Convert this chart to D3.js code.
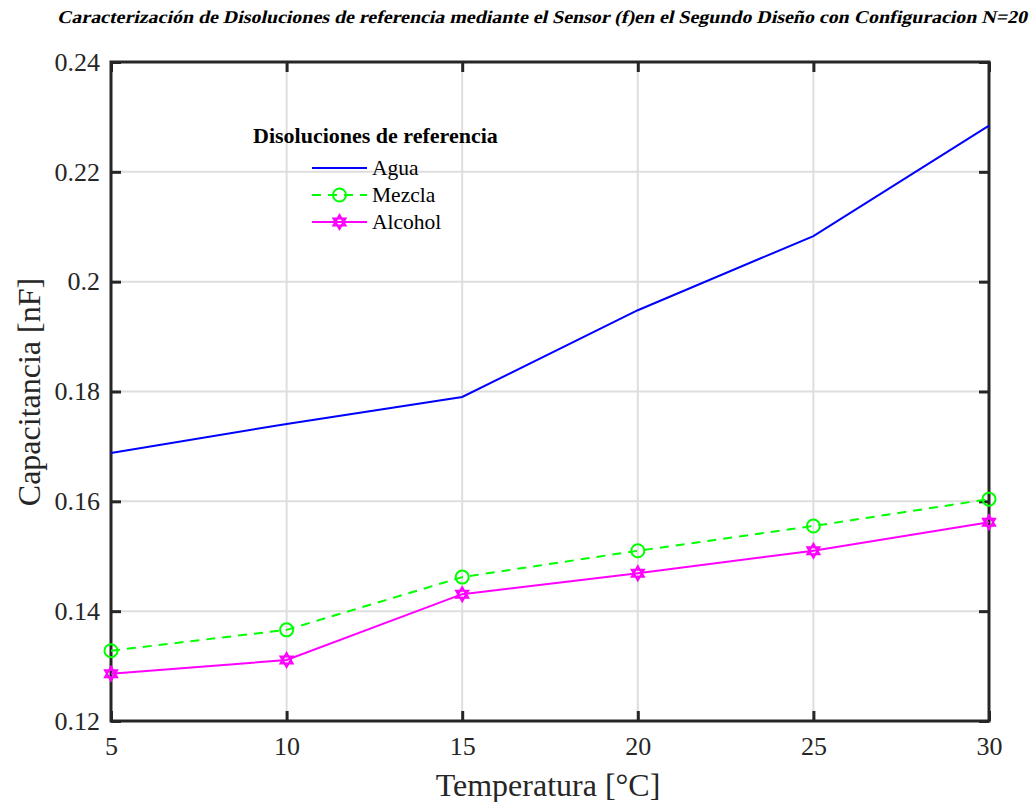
<!DOCTYPE html>
<html>
<head>
<style>
    body { margin: 0; background: #fff; }
</style>
</head>
<body>
<svg id="chart" width="1034" height="802" font-family="Liberation Serif, Times New Roman, serif"></svg>
<script src="https://d3js.org/d3.v7.min.js"></script>
<script>
    const temps = [5, 10, 15, 20, 25, 30];
    const agua = [0.1688, 0.1741, 0.1790, 0.1948, 0.2083, 0.2284];
    const mezcla = [0.1328, 0.1366, 0.1462, 0.1510, 0.1555, 0.1604];
    const alcohol = [0.1286, 0.1311, 0.1431, 0.1469, 0.1510, 0.1562];
    const xTicks = [5, 10, 15, 20, 25, 30];
    const yTicks = [0.12, 0.14, 0.16, 0.18, 0.2, 0.22, 0.24];

    const series = [
        {name: "Agua", values: agua, color: "#0000ff", dash: null, marker: null},
        {name: "Mezcla", values: mezcla, color: "#00ff00", dash: "9,7", marker: "circle"},
        {name: "Alcohol", values: alcohol, color: "#ff00ff", dash: null, marker: "hexagram"}
    ];

    const serif = "Liberation Serif, Times New Roman, serif";
    const plotL = 111, plotR = 989, plotT = 62, plotB = 721;
    const svg = d3.select("#chart");
    const x = d3.scaleLinear().domain([5, 30]).range([plotL, plotR]);
    const y = d3.scaleLinear().domain([0.12, 0.24]).range([plotB, plotT]);

    // grid
    svg.append("g").selectAll("line").data(xTicks).enter().append("line")
        .attr("x1", d => x(d)).attr("x2", d => x(d))
        .attr("y1", plotT).attr("y2", plotB)
        .attr("stroke", "#dedede").attr("stroke-width", 2);
    svg.append("g").selectAll("line").data(yTicks).enter().append("line")
        .attr("x1", plotL).attr("x2", plotR)
        .attr("y1", d => y(d)).attr("y2", d => y(d))
        .attr("stroke", "#dedede").attr("stroke-width", 2);

    // axes, ticks inward
    const fmt = d => String(+d.toFixed(2));
    const axL = svg.append("g").attr("transform", `translate(${plotL},0)`)
        .call(d3.axisLeft(y).tickValues(yTicks).tickSize(-10).tickPadding(11).tickFormat(fmt));
    const axR = svg.append("g").attr("transform", `translate(${plotR},0)`)
        .call(d3.axisRight(y).tickValues(yTicks).tickSize(-10).tickFormat(""));
    const axB = svg.append("g").attr("transform", `translate(0,${plotB})`)
        .call(d3.axisBottom(x).tickValues(xTicks).tickSize(-10).tickPadding(16));
    const axT = svg.append("g").attr("transform", `translate(0,${plotT})`)
        .call(d3.axisTop(x).tickValues(xTicks).tickSize(-10).tickFormat(""));
    [axL, axR, axB, axT].forEach(a => {
        a.attr("font-family", serif).attr("font-size", 26);
        a.select(".domain").remove();
        a.selectAll(".tick line").attr("stroke", "#262626").attr("stroke-width", 3);
        a.selectAll("text").attr("fill", "#262626");
    });
    svg.append("rect").attr("x", plotL).attr("y", plotT)
        .attr("width", plotR - plotL).attr("height", plotB - plotT)
        .attr("fill", "none").attr("stroke", "#262626").attr("stroke-width", 3);

    // lines
    const line = d3.line().x((d, i) => x(temps[i])).y(d => y(d));
    function hexagram(r) {
        const a = d3.range(3).map(k => [r * Math.sin(k * 2 * Math.PI / 3), -r * Math.cos(k * 2 * Math.PI / 3)]);
        const b = d3.range(3).map(k => [r * Math.sin(k * 2 * Math.PI / 3 + Math.PI / 3), -r * Math.cos(k * 2 * Math.PI / 3 + Math.PI / 3)]);
        return "M" + a.join("L") + "Z M" + b.join("L") + "Z";
    }
    function drawMarker(g, type, color) {
        if (type === "circle") {
            g.append("circle").attr("r", 6.5).attr("fill", "none")
                .attr("stroke", color).attr("stroke-width", 2);
        } else if (type === "hexagram") {
            g.append("path").attr("d", hexagram(7)).attr("fill", "none")
                .attr("stroke", color).attr("stroke-width", 2);
        }
    }
    series.forEach(s => {
        svg.append("path").datum(s.values).attr("d", line)
            .attr("fill", "none").attr("stroke", s.color).attr("stroke-width", 2)
            .attr("stroke-dasharray", s.dash);
        if (s.marker) {
            s.values.forEach((v, i) => {
                const g = svg.append("g").attr("transform", `translate(${x(temps[i])},${y(v)})`);
                drawMarker(g, s.marker, s.color);
            });
        }
    });

    // legend
    svg.append("text").attr("x", 253).attr("y", 143).attr("font-size", 22)
        .attr("font-weight", "bold").attr("fill", "#000").text("Disoluciones de referencia");
    series.forEach((s, i) => {
        const ly = 168 + i * 27;
        svg.append("line").attr("x1", 312).attr("x2", 367).attr("y1", ly).attr("y2", ly)
            .attr("stroke", s.color).attr("stroke-width", 2).attr("stroke-dasharray", s.dash);
        if (s.marker) {
            const g = svg.append("g").attr("transform", `translate(339.5,${ly})`);
            drawMarker(g, s.marker, s.color);
        }
        svg.append("text").attr("x", 372).attr("y", ly + 7).attr("font-size", 21.5)
            .attr("fill", "#000").text(s.name);
    });

    // labels
    svg.append("text").attr("x", 548).attr("y", 796).attr("text-anchor", "middle")
        .attr("font-size", 32).attr("fill", "#262626").text("Temperatura [°C]");
    svg.append("text").attr("transform", "translate(40,392) rotate(-90)")
        .attr("text-anchor", "middle").attr("font-size", 32).attr("fill", "#262626")
        .text("Capacitancia [nF]");
    // title: slanted bold serif, squeezed to width
    svg.append("g").attr("transform", "translate(57,23) skewX(-13)")
        .append("text").attr("x", 0).attr("y", 0).attr("font-size", 18)
        .attr("font-weight", "bold").attr("fill", "#000")
        .attr("textLength", 970).attr("lengthAdjust", "spacingAndGlyphs")
        .text("Caracterización de Disoluciones de referencia mediante el Sensor (f)en el Segundo Diseño con Configuracion N=20");
</script>
</body>
</html>
